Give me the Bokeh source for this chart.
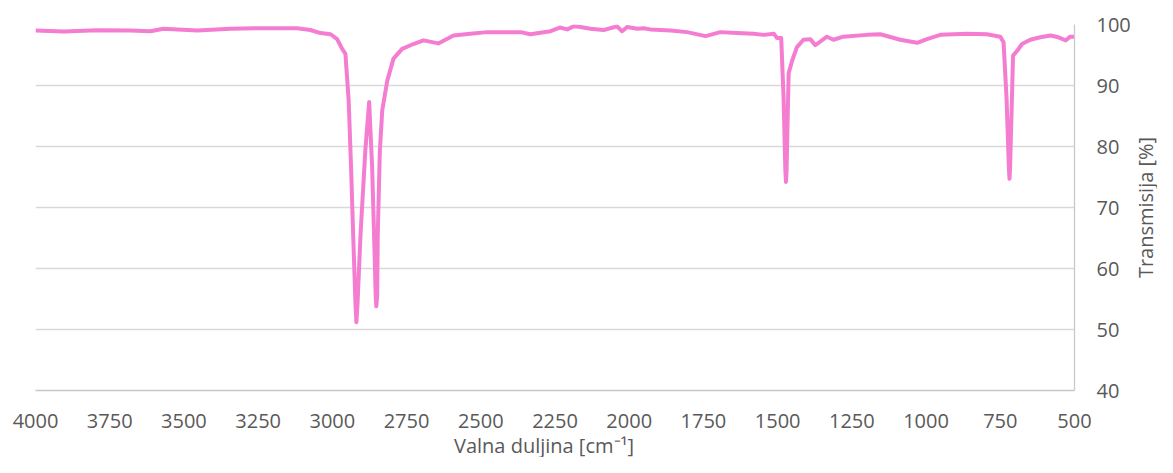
import math
from bokeh.plotting import figure
from bokeh.models import Range1d, FixedTicker, Label
from bokeh.layouts import row, column
from bokeh.embed import file_html
from bokeh.resources import INLINE

wavenumber = [4000, 3905, 3792, 3680, 3613, 3569, 3455, 3343, 3232, 3119, 3074, 3040, 3006, 2984, 2967,
              2956, 2945, 2937, 2930, 2922, 2919, 2915, 2905, 2889, 2876, 2866, 2858, 2854, 2852, 2849, 2847,
              2840, 2832, 2815,
              2794, 2765, 2727, 2693, 2643, 2592, 2535, 2479, 2366, 2333, 2265, 2234, 2209, 2187, 2164,
              2131, 2086, 2041, 2024, 2007, 1973, 1951, 1929, 1861, 1805, 1743, 1693, 1637, 1581, 1547,
              1513, 1502, 1488, 1480, 1474, 1472, 1470, 1463, 1451, 1435, 1413, 1390, 1373, 1334, 1312, 1279, 1199,
              1154, 1087, 1030, 997, 952, 862, 795, 750, 739, 729, 721, 719, 717, 707, 693, 677, 649, 615, 581,
              554, 530, 514, 500]
transmission = [99.0, 98.85, 99.07, 99.0, 98.9, 99.3, 99.0, 99.3, 99.4, 99.4, 99.1, 98.6, 98.4, 97.6, 96.0,
                95.2, 87.5, 76.6, 65.7, 54.0, 51.2, 54.5, 65.7, 79.3, 87.3, 76.6, 62.9, 55.5, 53.8, 55.5, 65.7,
                79.3, 85.9, 90.8,
                94.4, 96.0, 96.8, 97.4, 96.9, 98.2, 98.5, 98.75, 98.75, 98.4, 98.9, 99.5, 99.2, 99.7, 99.6,
                99.3, 99.1, 99.7, 98.9, 99.6, 99.3, 99.4, 99.2, 99.0, 98.75, 98.1, 98.75, 98.6, 98.5, 98.3,
                98.5, 97.8, 97.8, 88.0, 76.0, 74.2, 76.0, 92.0, 94.1, 96.3, 97.5, 97.6, 96.6, 98.0, 97.5, 98.0, 98.3,
                98.4, 97.5, 97.0, 97.6, 98.3, 98.5, 98.4, 98.0, 97.1, 88.0, 76.5, 74.7, 76.5, 94.9, 95.7, 96.8, 97.5, 97.9, 98.2,
                97.9, 97.4, 98.0, 98.0]

x_ticks = [4000, 3750, 3500, 3250, 3000, 2750, 2500, 2250, 2000, 1750, 1500, 1250, 1000, 750, 500]
y_ticks = [40, 50, 60, 70, 80, 90, 100]
x_title = "Valna duljina [cm\u207b\u00b9]"
y_title = "Transmisija [%]"

FONT = "Open Sans"
TXT = "#595959"

MW, MH = 1133, 432          # main plot size
XT_H = 25                    # x-title strip height
YT_W = 24                    # y-title strip width
FL, FT, FR, FB = 35, 24, 1074, 390

main = figure(width=MW, height=MH, output_backend="svg", toolbar_location=None,
              x_range=Range1d(4000, 500), y_range=Range1d(40, 100),
              y_axis_location="right",
              min_border_left=FL, min_border_right=MW - FR, min_border_top=FT, min_border_bottom=MH - FB)
main.outline_line_color = None
main.background_fill_color = "white"
main.border_fill_color = "white"

main.line(wavenumber, transmission, line_color="#F47CD1", line_width=4, line_join="round")

xa = main.xaxis[0]
xa.ticker = FixedTicker(ticks=x_ticks)
ya = main.yaxis[0]
ya.ticker = FixedTicker(ticks=y_ticks)

for ax in (xa, ya):
    ax.major_tick_line_color = None
    ax.minor_tick_line_color = None
    ax.major_tick_out = 0
    ax.major_tick_in = 0
    ax.minor_tick_out = 0
    ax.minor_tick_in = 0
    ax.axis_line_color = "#C8C8C8"
    ax.axis_line_width = 1.3
    ax.major_label_text_font = FONT
    ax.major_label_text_font_size = "20px"
    ax.major_label_text_color = TXT

xa.major_label_standoff = 23
ya.major_label_standoff = 22

main.xgrid.grid_line_color = None
main.ygrid.grid_line_color = "#D9D9D9"
main.ygrid.grid_line_width = 1.3
main.ygrid.ticker = FixedTicker(ticks=y_ticks)


def blank(w, h, xr, yr):
    f = figure(width=w, height=h, output_backend="svg", toolbar_location=None,
               x_range=Range1d(0, xr), y_range=Range1d(0, yr),
               x_axis_location=None, y_axis_location=None, min_border=0)
    f.outline_line_color = None
    f.grid.visible = False
    f.background_fill_color = "white"
    f.border_fill_color = "white"
    return f


xfig = blank(MW, XT_H, MW, XT_H)
xfig.add_layout(Label(x=(FL + FR) / 2, y=XT_H / 2, text=x_title, text_font=FONT,
                      text_font_size="20px", text_color=TXT,
                      text_align="center", text_baseline="middle"))

H_TOTAL = MH + XT_H
yfig = blank(YT_W, H_TOTAL, YT_W, H_TOTAL)
yfig.add_layout(Label(x=YT_W / 2, y=H_TOTAL - 207, text=y_title, text_font=FONT,
                      text_font_size="20px", text_color=TXT,
                      text_align="center", text_baseline="middle", angle=math.pi / 2))

p = row(column(main, xfig, spacing=0), yfig, spacing=0)

open("out.html", "w").write(file_html(p, INLINE))
